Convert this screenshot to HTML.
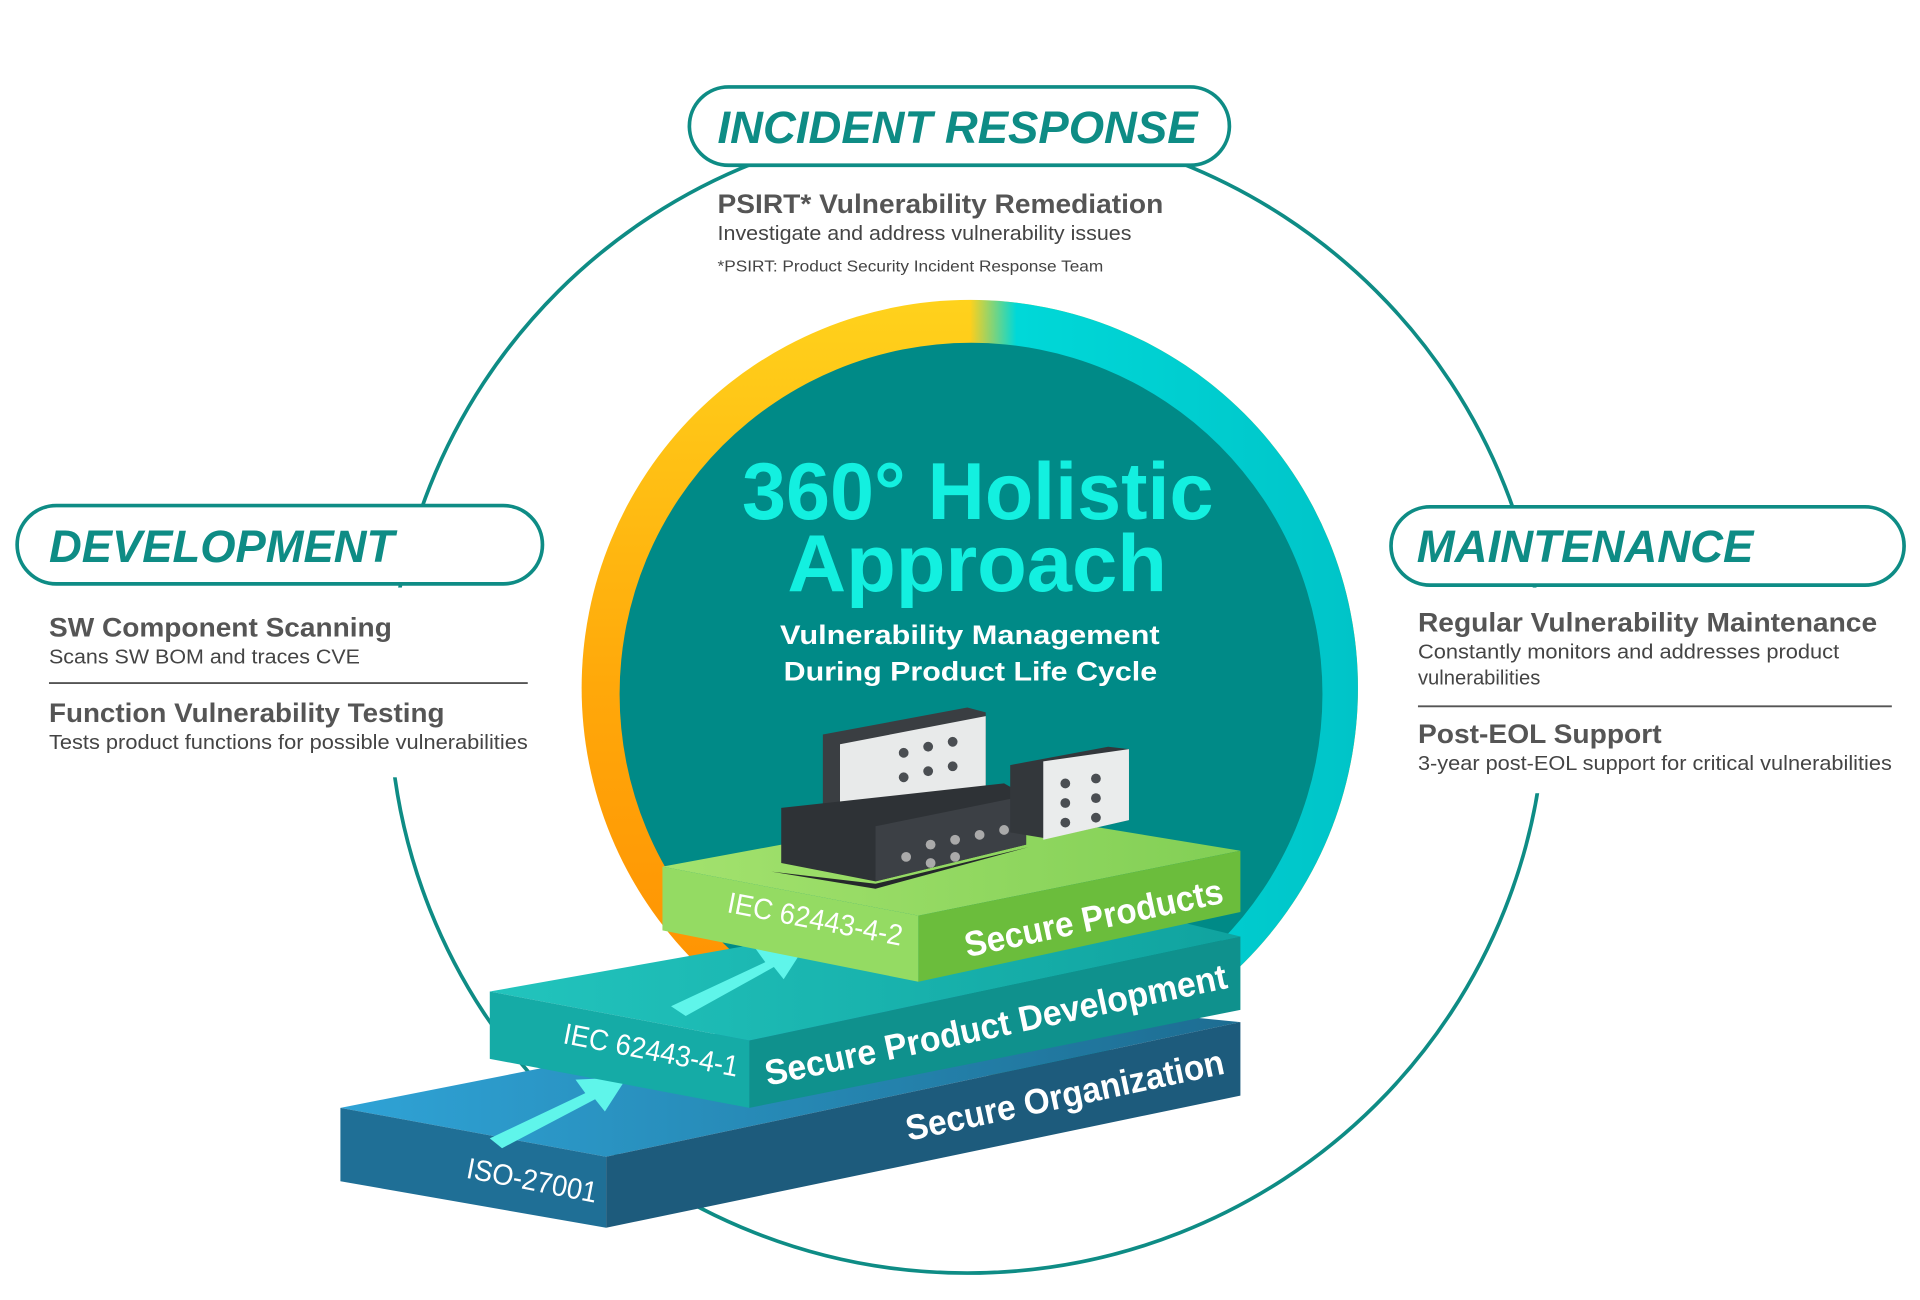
<!DOCTYPE html>
<html><head><meta charset="utf-8"><style>
html,body{margin:0;padding:0;background:#fff;}
svg{display:block;}
text{font-family:"Liberation Sans",sans-serif;}
</style></head><body>
<svg width="1920" height="1300" viewBox="0 0 1568 1062" preserveAspectRatio="none" xmlns="http://www.w3.org/2000/svg">
<defs>
<linearGradient id="warm" x1="0" y1="0" x2="0" y2="1">
<stop offset="0" stop-color="#ffd21c"/><stop offset="0.5" stop-color="#ffa80a"/><stop offset="1" stop-color="#ff8c00"/>
</linearGradient>
<linearGradient id="cool" x1="0" y1="0" x2="1" y2="0">
<stop offset="0.5" stop-color="#00d8d8" stop-opacity="0"/><stop offset="0.56" stop-color="#00d8d8" stop-opacity="1"/><stop offset="1" stop-color="#00c4c8"/>
</linearGradient>
<linearGradient id="b1" x1="0" y1="0" x2="1" y2="0"><stop offset="0" stop-color="#2fa3d6"/><stop offset="1" stop-color="#1d6d92"/></linearGradient>
<linearGradient id="b2" x1="0" y1="0" x2="1" y2="0"><stop offset="0" stop-color="#22c4bd"/><stop offset="1" stop-color="#10a39f"/></linearGradient>
<linearGradient id="b3" x1="0" y1="0" x2="1" y2="0"><stop offset="0" stop-color="#a3e26e"/><stop offset="1" stop-color="#82cf55"/></linearGradient>
</defs>
<ellipse cx="790" cy="570" rx="472" ry="470" fill="none" stroke="#0e8c85" stroke-width="3"/>
<rect x="20" y="480" width="425" height="155" fill="#fff"/>
<rect x="1150" y="480" width="410" height="168" fill="#fff"/>
<circle cx="792" cy="562" r="317" fill="url(#warm)"/>
<circle cx="792" cy="562" r="317" fill="url(#cool)"/>
<circle cx="793" cy="567" r="287" fill="#008a87"/>
<rect x="563" y="71" width="441" height="64" rx="32" fill="#fff" stroke="#0e8c85" stroke-width="3"/>
<text x="586" y="117" textLength="392" lengthAdjust="spacingAndGlyphs" font-size="37" font-weight="bold" font-style="italic" fill="#0e8c85">INCIDENT RESPONSE</text>
<rect x="14" y="413" width="429" height="64" rx="32" fill="#fff" stroke="#0e8c85" stroke-width="3"/>
<text x="40" y="459" textLength="282" lengthAdjust="spacingAndGlyphs" font-size="37" font-weight="bold" font-style="italic" fill="#0e8c85">DEVELOPMENT</text>
<rect x="1136" y="414" width="419" height="64" rx="32" fill="#fff" stroke="#0e8c85" stroke-width="3"/>
<text x="1157" y="459" textLength="275" lengthAdjust="spacingAndGlyphs" font-size="37" font-weight="bold" font-style="italic" fill="#0e8c85">MAINTENANCE</text>
<text x="586" y="174" textLength="364" lengthAdjust="spacingAndGlyphs" font-size="22" font-weight="bold" fill="#555">PSIRT* Vulnerability Remediation</text>
<text x="586" y="196" textLength="338" lengthAdjust="spacingAndGlyphs" font-size="16.5" fill="#444">Investigate and address vulnerability issues</text>
<text x="586" y="222" textLength="315" lengthAdjust="spacingAndGlyphs" font-size="13" fill="#444">*PSIRT: Product Security Incident Response Team</text>
<text x="40" y="520" textLength="280" lengthAdjust="spacingAndGlyphs" font-size="22" font-weight="bold" fill="#555">SW Component Scanning</text>
<text x="40" y="542" textLength="254" lengthAdjust="spacingAndGlyphs" font-size="16.5" fill="#444">Scans SW BOM and traces CVE</text>
<line x1="40" y1="558" x2="431" y2="558" stroke="#555" stroke-width="1.5"/>
<text x="40" y="590" textLength="323" lengthAdjust="spacingAndGlyphs" font-size="22" font-weight="bold" fill="#555">Function Vulnerability Testing</text>
<text x="40" y="612" textLength="391" lengthAdjust="spacingAndGlyphs" font-size="16.5" fill="#444">Tests product functions for possible vulnerabilities</text>
<text x="1158" y="516" textLength="375" lengthAdjust="spacingAndGlyphs" font-size="22" font-weight="bold" fill="#555">Regular Vulnerability Maintenance</text>
<text x="1158" y="538" textLength="344" lengthAdjust="spacingAndGlyphs" font-size="16.5" fill="#444">Constantly monitors and addresses product</text>
<text x="1158" y="559" font-size="16.5" fill="#444">vulnerabilities</text>
<line x1="1158" y1="577" x2="1545" y2="577" stroke="#555" stroke-width="1.5"/>
<text x="1158" y="607" textLength="199" lengthAdjust="spacingAndGlyphs" font-size="22" font-weight="bold" fill="#555">Post-EOL Support</text>
<text x="1158" y="629" textLength="387" lengthAdjust="spacingAndGlyphs" font-size="16.5" fill="#444">3-year post-EOL support for critical vulnerabilities</text>
<text x="606" y="424" textLength="385" lengthAdjust="spacingAndGlyphs" font-size="66" font-weight="bold" fill="#13f0e0">360° Holistic</text>
<text x="643" y="483" textLength="310" lengthAdjust="spacingAndGlyphs" font-size="66" font-weight="bold" fill="#13f0e0">Approach</text>
<text x="637" y="526" textLength="310" lengthAdjust="spacingAndGlyphs" font-size="22" font-weight="bold" fill="#fff">Vulnerability Management</text>
<text x="640" y="556" textLength="305" lengthAdjust="spacingAndGlyphs" font-size="22" font-weight="bold" fill="#fff">During Product Life Cycle</text>
<polygon points="278,905 760,810 1013,835 495,945" fill="url(#b1)"/>
<polygon points="278,905 495,945 495,1003 278,965" fill="#1f6f96"/>
<polygon points="495,945 1013,835 1013,895 495,1003" fill="#1d5b7c"/>
<polygon points="400,930 478,893 470,882 512,880 494,908 486,898 410,938" fill="#5ff5ea"/>
<text transform="translate(380,962) rotate(11)" textLength="108" lengthAdjust="spacingAndGlyphs" font-size="24" fill="#fff">ISO-27001</text>
<text transform="translate(742,932) rotate(-12)" textLength="265" lengthAdjust="spacingAndGlyphs" font-size="29" font-weight="bold" fill="#fff">Secure Organization</text>
<polygon points="400,810 860,728 1013,765 612,850" fill="url(#b2)"/>
<polygon points="400,810 612,850 612,905 400,865" fill="#15aba6"/>
<polygon points="612,850 1013,765 1013,825 612,905" fill="#0f918d"/>
<polygon points="548,822 625,786 617,775 658,772 640,800 632,790 560,830" fill="#5ff5ea"/>
<text transform="translate(459,852) rotate(11)" textLength="145" lengthAdjust="spacingAndGlyphs" font-size="24" fill="#fff">IEC 62443-4-1</text>
<text transform="translate(627,887) rotate(-12)" textLength="385" lengthAdjust="spacingAndGlyphs" font-size="29" font-weight="bold" fill="#fff">Secure Product Development</text>
<polygon points="541,708 800,660 1013,695 750,748" fill="url(#b3)"/>
<polygon points="541,708 750,748 750,802 541,760" fill="#94db63"/>
<polygon points="750,748 1013,695 1013,745 750,802" fill="#6bbd3c"/>
<text transform="translate(593,745) rotate(11)" textLength="145" lengthAdjust="spacingAndGlyphs" font-size="24" fill="#fff">IEC 62443-4-2</text>
<text transform="translate(790,782) rotate(-12)" textLength="215" lengthAdjust="spacingAndGlyphs" font-size="29" font-weight="bold" fill="#fff">Secure Products</text>
<polygon points="672,600 790,578 805,582 805,645 686,667 672,660" fill="#3a3e42"/>
<polygon points="686,608 805,585 805,645 686,667" fill="#e8eaea"/>
<polygon points="638,660 820,640 838,650 838,690 715,720 638,705" fill="#2e3236"/>
<polygon points="715,675 838,650 838,690 715,720" fill="#3c4045"/>
<polygon points="630,712 715,722 840,692 715,726" fill="#25282b"/>
<polygon points="825,625 905,610 922,612 922,670 855,685 825,680" fill="#33373b"/>
<polygon points="852,622 922,612 922,670 852,686" fill="#eaecec"/>
<g fill="#4a4e52">
<circle cx="870" cy="640" r="4"/><circle cx="895" cy="636" r="4"/><circle cx="870" cy="656" r="4"/><circle cx="895" cy="652" r="4"/><circle cx="870" cy="672" r="4"/><circle cx="895" cy="668" r="4"/>
<circle cx="758" cy="610" r="4"/><circle cx="778" cy="606" r="4"/><circle cx="758" cy="630" r="4"/><circle cx="778" cy="626" r="4"/><circle cx="738" cy="635" r="4"/><circle cx="738" cy="615" r="4"/>
</g>
<g fill="#aaa"><circle cx="760" cy="690" r="4"/><circle cx="780" cy="686" r="4"/><circle cx="800" cy="682" r="4"/><circle cx="820" cy="678" r="4"/><circle cx="740" cy="700" r="4"/><circle cx="760" cy="705" r="4"/><circle cx="780" cy="700" r="4"/></g>
</svg>
</body></html>
